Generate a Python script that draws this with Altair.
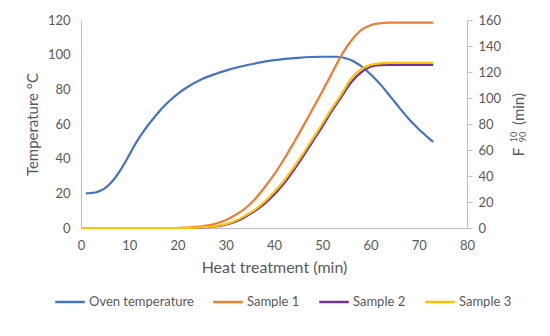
import altair as alt
import pandas as pd

# ---- data ----
oven_t = [1, 2, 3, 4, 5, 6, 7, 8, 9, 10, 11, 12, 13, 14, 15, 16, 17, 18, 19, 20, 22, 25, 28, 30, 35, 40, 45, 50,
          53, 54, 55, 56, 57, 58, 59, 60, 61, 62, 63, 64, 65, 66, 67, 68, 69, 70, 71, 72, 73]
oven_temp = [20, 20.2, 20.5, 21.5, 23, 25.5, 28.7, 32.7, 37.2, 42.2, 47.2, 51.8, 55.9, 59.7, 63.2, 66.5, 69.6, 72.4, 75, 77.3,
             81.2, 85.8, 89, 90.8, 94.3, 96.8, 98.2, 98.8,
             98.8, 98.5, 97.8, 96.8, 95.3, 93.5, 91.2, 88.7, 86, 83, 79.7, 76.2, 72.8, 69.3, 66, 62.8, 59.8, 57, 54.5, 52, 49.7]

sample_t = [0, 20, 22, 24, 26, 28, 30, 32, 34, 36, 38, 40, 42, 44, 46, 48, 50, 52, 54, 56, 58, 60, 62, 64, 73]
sample1 = [0, 0, 0.3, 0.8, 1.8, 3.5, 6, 10, 15, 22, 31, 41, 52.5, 65, 78, 91.5, 105, 119, 133, 144, 152, 156, 157.5, 158, 158]
sample2 = [0, 0, 0, 0.2, 0.6, 1.2, 2.5, 4.8, 8.5, 13, 18.5, 25.5, 34, 44, 55, 66.5, 78, 90, 101, 112, 119.5, 124, 125.3, 125.5, 125.5]
sample3 = [0, 0, 0, 0.3, 0.8, 1.5, 3, 5.5, 9.5, 14, 20, 27.5, 36, 46, 57, 68.5, 80, 92, 103, 115, 122, 125.5, 126.7, 127, 127]

series = ["Oven temperature", "Sample 1", "Sample 2", "Sample 3"]
colors = ["#4472C4", "#ED7D31", "#7030A0", "#FFC000"]

oven_df = pd.DataFrame({"t": oven_t, "v": oven_temp, "s": series[0]})
samp_df = pd.concat([
    pd.DataFrame({"t": sample_t, "v": sample1, "s": series[1]}),
    pd.DataFrame({"t": sample_t, "v": sample2, "s": series[2]}),
    pd.DataFrame({"t": sample_t, "v": sample3, "s": series[3]}),
])

FONT = "Lato"
GREY = "#595959"
AXIS_LINE = "#BFBFBF"
W, H = 386, 208

color = alt.Color(
    "s:N",
    scale=alt.Scale(domain=series, range=colors),
    legend=alt.Legend(
        title=None, orient="none", direction="horizontal",
        legendX=-27, legendY=266,
        symbolType="stroke", symbolSize=870, symbolStrokeWidth=2.5,
        labelFont=FONT, labelFontSize=13, labelColor=GREY,
        labelOffset=3, columnPadding=14,
    ),
)

x = alt.X(
    "t:Q",
    scale=alt.Scale(domain=[0, 80], nice=False),
    axis=alt.Axis(
        title="Heat treatment (min)", values=list(range(0, 81, 10)),
        ticks=False, grid=False, domainColor=AXIS_LINE, labelFlush=False,
        labelPadding=11, titlePadding=7,
        labelFont=FONT, labelFontSize=13, labelColor=GREY,
        titleFont=FONT, titleFontSize=16, titleColor=GREY, titleFontWeight="normal",
    ),
)

oven = alt.Chart(oven_df).mark_line(strokeWidth=2.2, interpolate="monotone").encode(
    x=x,
    y=alt.Y(
        "v:Q",
        scale=alt.Scale(domain=[0, 120], nice=False),
        axis=alt.Axis(
            orient="left", title="Temperature °C", values=list(range(0, 121, 20)),
            ticks=False, grid=False, domainColor=AXIS_LINE, labelFlush=False,
            labelPadding=11, titlePadding=7,
            labelFont=FONT, labelFontSize=13, labelColor=GREY,
            titleFont=FONT, titleFontSize=15, titleColor=GREY, titleFontWeight="normal",
        ),
    ),
    color=color,
)

samples = alt.Chart(samp_df).mark_line(strokeWidth=2.2, interpolate="monotone").encode(
    x=x,
    y=alt.Y(
        "v:Q",
        scale=alt.Scale(domain=[0, 160], nice=False),
        axis=alt.Axis(
            orient="right", title=None, values=list(range(0, 161, 20)),
            ticks=True, tickSize=5, tickColor=AXIS_LINE, grid=False, domainColor=AXIS_LINE,
            labelFlush=False, labelPadding=6,
            labelFont=FONT, labelFontSize=13, labelColor=GREY,
        ),
    ),
    color=color,
)

def label(txt, xp, yp, size):
    return alt.Chart(pd.DataFrame({"txt": [txt]})).mark_text(
        angle=270, align="center", baseline="middle", font=FONT, fontSize=size, color=GREY
    ).encode(text="txt:N", x=alt.value(xp), y=alt.value(yp))

right_title = (
    label("F", 437.5, 132, 15)
    + label("10", 433, 117, 9)
    + label("90", 441.5, 117, 9)
    + label("(min)", 437.5, 89, 15)
)

chart = (
    alt.layer(oven, samples, right_title)
    .resolve_scale(y="independent")
    .properties(
        width=W, height=H,
        autosize=alt.AutoSizeParams(type="none"),
        padding={"left": 73, "top": 12, "right": 75, "bottom": 100},
        background="white",
    )
    .configure_view(stroke=None)
)

chart.save("out.html", embed_options={"renderer": "svg", "actions": False})
